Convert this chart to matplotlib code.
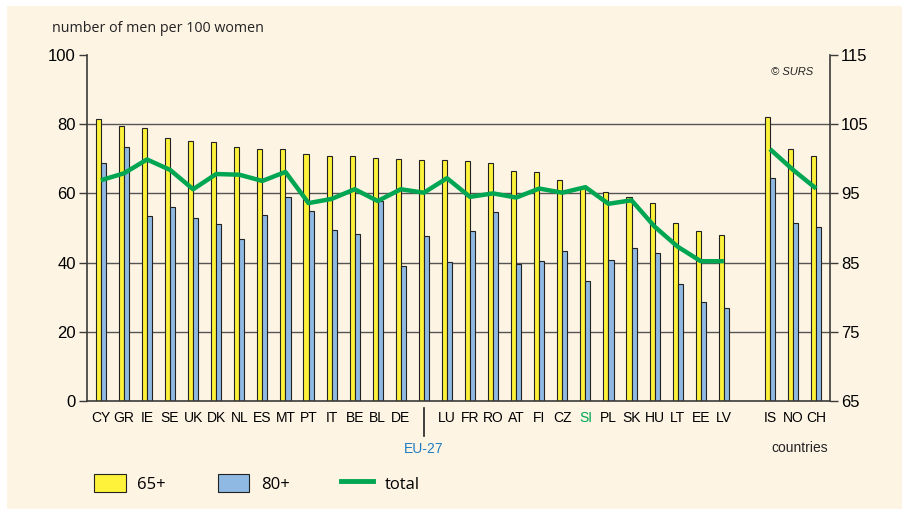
import numpy as np
import matplotlib
matplotlib.use("Agg")
from matplotlib import pyplot as plt
from matplotlib.patches import Patch, Rectangle
from matplotlib.lines import Line2D
import matplotlib.transforms as mtransforms

# country codes, "" marks the empty slot between EU and non-EU countries
countries = ["CY", "GR", "IE", "SE", "UK", "DK", "NL", "ES", "MT", "PT", "IT", "BE", "BL", "DE",
             "EU-27", "LU", "FR", "RO", "AT", "FI", "CZ", "SI", "PL", "SK", "HU", "LT", "EE", "LV",
             "", "IS", "NO", "CH"]
men_65 = [81.5, 79.5, 78.9, 76.0, 75.1, 75.0, 73.4, 72.7, 72.7, 71.4, 70.8, 70.8, 70.1, 69.9,
          69.7, 69.6, 69.4, 68.9, 66.4, 66.3, 63.8, 61.5, 60.3, 59.0, 57.1, 51.5, 49.1, 48.1,
          np.nan, 82.2, 72.9, 70.7]
men_80 = [68.7, 73.4, 53.6, 56.2, 52.8, 51.1, 46.7, 53.9, 59.0, 54.8, 49.3, 48.4, 57.7, 39.0,
          47.8, 40.1, 49.1, 54.6, 39.7, 40.5, 43.4, 34.7, 40.8, 44.1, 42.9, 33.7, 28.6, 26.8,
          np.nan, 64.4, 51.4, 50.4]
men_total = [96.9, 97.9, 99.9, 98.4, 95.6, 97.8, 97.7, 96.8, 98.1, 93.6, 94.2, 95.6, 93.9, 95.6,
             95.1, 97.2, 94.5, 95.0, 94.4, 95.7, 95.1, 95.9, 93.5, 94.0, 90.2, 87.3, 85.2, 85.2,
             np.nan, 101.4, 98.4, 95.7]
left_ticks = [0, 20, 40, 60, 80, 100]
right_ticks = [65, 75, 85, 95, 105, 115]

W, H = 902, 509
cream = "#fdf4e4"
yellow = "#fff23a"
blue = "#8fb9e2"
green = "#00a651"
dark = "#3a3a3a"
narrow = ["Liberation Sans Narrow", "Liberation Sans", "DejaVu Sans"]
humanist = ["Open Sans", "DejaVu Sans"]

plt.rcParams["font.family"] = ["Liberation Sans", "DejaVu Sans"]
fig = plt.figure(figsize=(W / 100, H / 100), dpi=100, facecolor="white")
fig.patches.append(Rectangle((7 / W, 0), 1, 1 - 6 / H, transform=fig.transFigure,
                             facecolor=cream, edgecolor="none", zorder=-10))

ax = fig.add_axes([87 / W, (H - 401) / H, (830 - 87) / W, (401 - 55) / H])
ax.set_facecolor("none")
x = np.arange(len(countries))

for v in [20, 40, 60, 80]:
    ax.axhline(v, color="#555555", lw=1.0, zorder=0)

bw = 0.22
ax.bar(x - bw / 2, men_65, width=bw, color=yellow, edgecolor="#222222", lw=0.8, zorder=2)
ax.bar(x + bw / 2, men_80, width=bw, color=blue, edgecolor="#222222", lw=0.8, zorder=2)

ax.set_xlim(-0.6, len(countries) - 0.4)
ax.set_ylim(0, 100)
ax.set_yticks(left_ticks)
ax.tick_params(axis="y", direction="out", length=6, width=1, color=dark, labelsize=12, pad=2)
for s in ["top", "right"]:
    ax.spines[s].set_visible(False)
for s in ["left", "bottom"]:
    ax.spines[s].set_color(dark)
    ax.spines[s].set_linewidth(1.2)

labels = [c if c != "EU-27" else "" for c in countries]
ax.set_xticks(x)
ax.set_xticklabels(labels, family=narrow, fontsize=10)
ax.tick_params(axis="x", length=0, pad=7)
for t in ax.get_xticklabels():
    if t.get_text() == "SI":
        t.set_color(green)

ax2 = ax.twinx()
ax2.set_ylim(65, 115)
ax2.set_yticks(right_ticks)
ax2.tick_params(axis="y", direction="out", length=6, width=1, color=dark, labelsize=12, pad=2)
for s in ["top", "left", "bottom"]:
    ax2.spines[s].set_visible(False)
ax2.spines["right"].set_color(dark)
ax2.spines["right"].set_linewidth(1.2)
ax2.plot(x, men_total, color=green, lw=3.2, solid_capstyle="butt", solid_joinstyle="round",
         zorder=5)

# EU-27 marker below the axis
eu = countries.index("EU-27")
trans = mtransforms.blended_transform_factory(ax.transData, ax.transAxes)
ax.plot([eu, eu], [-0.02, -0.1], color="#222222", lw=1.2, transform=trans, clip_on=False)
ax.text(eu, -0.14, "EU-27", transform=trans, ha="center", va="center", color="#1f7cc0",
        fontsize=10, family=narrow)
ax.text(30.3, -0.135, "countries", transform=trans, ha="center", va="center", color="#222222",
        fontsize=10, family=narrow)

fig.text(52 / W, 1 - 29 / H, "number of men per 100 women", fontsize=10.3, family=humanist,
         color="#222222", va="center", ha="left")
fig.text(792 / W, 1 - 72 / H, "© SURS", fontsize=8, style="italic", color="#222222",
         va="center", ha="center")

handles = [Patch(facecolor=yellow, edgecolor="#222222", lw=0.8),
           Patch(facecolor=blue, edgecolor="#222222", lw=0.8),
           Line2D([0], [0], color=green, lw=3.5)]
fig.legend(handles, ["65+", "80+", "total"], loc="upper left", bbox_to_anchor=(94 / W, 1 - 474 / H),
           ncol=3, frameon=False, borderpad=0, borderaxespad=0, handlelength=1.9, handleheight=1.3,
           handletextpad=0.7, columnspacing=3.1, prop={"family": humanist, "size": 12})

fig.savefig("out.png", dpi=100, facecolor="white")
